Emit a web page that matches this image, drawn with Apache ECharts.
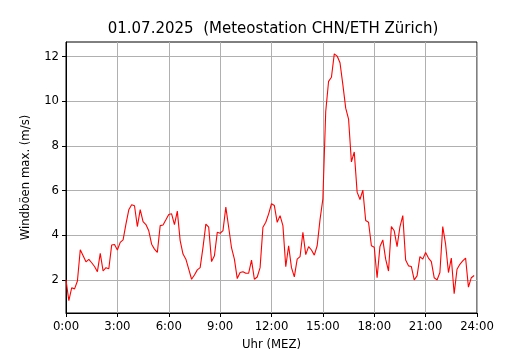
<!DOCTYPE html>
<html>
<head>
<meta charset="utf-8">
<script src="https://cdn.jsdelivr.net/npm/echarts@6/dist/echarts.min.js"></script>
<style>
html,body{margin:0;padding:0;background:#fff;}
#chart{width:530px;height:350px;}
</style>
</head>
<body>
<div id="chart"></div>
<script>
// Data: max wind gust (m/s), one value every 10 minutes starting 0:00
var titleText = '01.07.2025  (Meteostation CHN/ETH Zürich)';
var yAxisName = 'Windböen max. (m/s)';
var xAxisName = 'Uhr (MEZ)';
var stepMinutes = 10;
var gustValues = [
  2.0, 1.07, 1.65, 1.6, 1.95, 3.35, 3.08, 2.81, 2.92, 2.77, 2.6, 2.37,
  3.19, 2.4, 2.55, 2.5, 3.56, 3.59, 3.34, 3.68, 3.79, 4.5, 5.14, 5.37,
  5.32, 4.39, 5.15, 4.61, 4.48, 4.2, 3.6, 3.38, 3.23, 4.43, 4.46, 4.69,
  4.93, 4.96, 4.48, 5.08, 3.76, 3.16, 2.93, 2.48, 2.03, 2.22, 2.45, 2.55,
  3.46, 4.5, 4.36, 2.82, 3.08, 4.13, 4.09, 4.21, 5.26, 4.36, 3.43, 2.93,
  2.06, 2.33, 2.37, 2.3, 2.3, 2.89, 2.03, 2.13, 2.55, 4.36, 4.58, 4.96,
  5.41, 5.33, 4.58, 4.88, 4.43, 2.59, 3.53, 2.55, 2.14, 2.93, 3.04, 4.13,
  3.13, 3.49, 3.34, 3.11, 3.53, 4.7, 5.63, 9.54, 10.89, 11.07, 12.12, 12.02,
  11.72, 10.74, 9.69, 9.2, 7.28, 7.73, 5.93, 5.6, 6.02, 4.66, 4.58, 3.53,
  3.46, 2.1, 3.5, 3.79, 2.93, 2.4, 4.39, 4.2, 3.49, 4.38, 4.88, 2.89,
  2.63, 2.6, 2.0, 2.18, 3.04, 2.93, 3.23, 2.98, 2.82, 2.1, 2.0, 2.33,
  4.39, 3.6, 2.33, 2.98, 1.38, 2.48, 2.7, 2.85, 2.98, 1.68, 2.1, 2.2
];
var xTickLabels = ['0:00','3:00','6:00','9:00','12:00','15:00','18:00','21:00','24:00'];
var yTickValues = [2, 4, 6, 8, 10, 12];

var seriesData = gustValues.map(function (v, i) {
  return [i * stepMinutes / 60, v];
});

var font = 'DejaVu Sans';
var chart = echarts.init(document.getElementById('chart'), null, {renderer: 'canvas'});
chart.setOption({
  animation: false,
  backgroundColor: '#fff',
  title: {
    text: titleText,
    left: 268,
    textAlign: 'center',
    top: 17,
    textStyle: {fontFamily: font, fontSize: 15, fontWeight: 'normal', color: '#000'}
  },
  grid: {
    left: 66, top: 42, width: 411, height: 271,
    containLabel: false,
    outerBoundsMode: 'none',
    show: true, borderColor: '#000', borderWidth: 1, backgroundColor: 'transparent'
  },
  xAxis: {
    type: 'value',
    min: 0, max: 24, interval: 3,
    name: xAxisName,
    nameLocation: 'middle',
    nameGap: 26,
    nameTextStyle: {fontFamily: font, fontSize: 11.7, color: '#000'},
    axisLine: {show: true, onZero: false, lineStyle: {color: '#000', width: 1}},
    axisTick: {show: true, inside: false, length: 4, lineStyle: {color: '#000', width: 1}},
    axisLabel: {
      fontFamily: font, fontSize: 11.7, color: '#000', margin: 8,
      formatter: function (v) { return xTickLabels[Math.round(v / 3)]; }
    },
    splitLine: {show: true, lineStyle: {color: '#b0b0b0', width: 1}}
  },
  yAxis: {
    type: 'value',
    min: 0.52, max: 12.65,
    name: yAxisName,
    nameLocation: 'middle',
    nameGap: 34,
    nameRotate: 90,
    nameTextStyle: {fontFamily: font, fontSize: 11.7, color: '#000'},
    axisLine: {show: true, onZero: false, lineStyle: {color: '#000', width: 1}},
    axisTick: {show: true, inside: false, length: 4, customValues: yTickValues, lineStyle: {color: '#000', width: 1}},
    axisLabel: {fontFamily: font, fontSize: 11.7, color: '#000', margin: 7, customValues: yTickValues},
    splitLine: {show: true, lineStyle: {color: '#b0b0b0', width: 1}}
  },
  series: [{
    type: 'line',
    data: seriesData,
    showSymbol: false,
    symbol: 'none',
    lineStyle: {color: '#ff0000', width: 1.1},
    z: 5
  }]
});
</script>
</body>
</html>
